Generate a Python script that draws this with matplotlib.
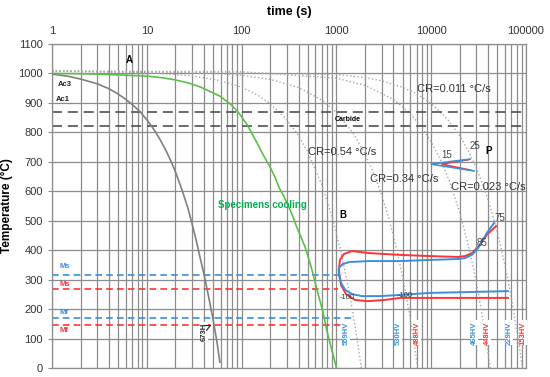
import numpy as np
import matplotlib
matplotlib.use("Agg")
import matplotlib.pyplot as plt
from matplotlib.ticker import NullFormatter

plt.rcParams['font.family'] = ['Liberation Sans', 'DejaVu Sans']

# ---- data (time in s, temperature in C) ----
# fast cooling (gray solid)
fast_t = [1, 1.5, 2, 3, 4, 5, 6, 7, 8.5, 10, 12, 14, 16, 18, 20, 23.5, 27, 30, 33, 36, 40,
          45, 50, 55, 59]
fast_T = [998, 990, 981, 965, 948, 930, 912, 895, 870, 843, 808, 772, 737, 702, 667, 605,
          545, 490, 437, 383, 320, 240, 165, 88, 20]

# specimens cooling (green)
spec_t = [1, 2, 3, 5, 10, 15, 20, 28, 36, 45, 59, 75, 92, 115, 145, 170, 200, 225, 250, 280,
          309, 345, 380, 420, 467, 505, 545, 585, 625, 665, 710, 750, 790, 835, 880, 940, 1000]
spec_T = [1000, 999, 998, 995, 991, 985, 978, 967, 955, 941, 923, 898, 869, 825, 765, 722,
          682, 648, 611, 582, 553, 517, 480, 447, 411, 375, 340, 302, 265, 232, 200, 165, 129,
          98, 70, 35, 0]

# cooling-rate curves (gray dotted)
cr054_t = [1, 10, 30, 60, 100, 150, 200, 300, 400, 500, 700, 900, 1100, 1300, 1500, 1700, 1830]
cr054_T = [1008, 1003, 992, 975, 953, 925, 898, 843, 788, 733, 623, 513, 403, 293, 183, 73, 0]
cr014_t = [1, 30, 100, 200, 400, 700, 1000, 1500, 2000, 2500, 3000, 3500, 4000, 4500, 5000,
           5500, 6000, 6500, 7000, 7200]
cr014_T = [1008, 1004, 994, 980, 952, 910, 868, 798, 728, 658, 588, 518, 448, 378, 308,
           238, 168, 98, 28, 0]
cr023_t = [1, 100, 1000, 2000, 4000, 6000, 8000, 10000, 13000, 16000, 20000, 24000, 28000,
           32000, 36000, 40000, 42000]
cr023_T = [1008, 1006, 984, 960, 912, 864, 816, 768, 696, 624, 528, 432, 336, 240, 144, 48, 0]
cr011_t = [1, 1000, 2000, 3000, 5000, 7000, 10000, 15000, 20000, 25000, 30000, 35000, 40000,
           45000, 50000, 55000, 60000, 65000, 70000, 75000, 80000, 85000, 90000, 91600]
cr011_T = [1008, 997, 986, 975, 953, 931, 898, 843, 788, 733, 678, 623, 568, 513, 458, 403,
           348, 293, 238, 183, 128, 73, 18, 0]

# bainite transformation curves
bain_blue_t = [45900, 38600, 34400, 31200, 26900, 22700, 19200, 9700, 4700, 2240, 1390, 1170,
               1060, 1060, 1120, 1240, 1460, 1860, 2870, 4700, 9700, 25700, 64500]
bain_blue_T = [492, 458, 431, 407, 384, 373, 370, 367, 363, 363, 360, 353,
               340, 316, 289, 265, 251, 244, 244, 248, 255, 258, 261]
bain_red_t = [48300, 38600, 34400, 31200, 26900, 22700, 19200, 9700, 4700, 2240, 1460, 1200,
              1090, 1060, 1120, 1260, 1570, 2150, 3240, 4700, 15800, 64500]
bain_red_T = [482, 452, 428, 411, 390, 380, 377, 380, 384, 390, 397, 387,
              367, 333, 282, 251, 231, 227, 231, 238, 238, 238]

# pearlite nose
pear_blue_t = [25700, 16000, 10000, 16500, 28300]
pear_blue_T = [709, 701, 692, 681, 669]
pear_red_t = [24500, 17000, 13000, 17500, 26000]
pear_red_T = [707, 699, 692, 683, 672]

# critical temperatures
ac3, ac1 = 869, 822
ms_blue, ms_red, mf_blue, mf_red = 316, 268, 170, 146
ms_blue_end, ms_red_end, mf_blue_end, mf_red_end = 1040, 1050, 1460, 1140

# hardness labels
hv_text = ['559HV', '530HV', '488HV', '465HV', '448HV', '229HV', '153HV']
hv_t = [1260, 4470, 7100, 28300, 38700, 66200, 93000]
hv_col = ['b', 'b', 'r', 'b', 'r', 'b', 'r']

BLUE = '#3a8fdd'
RED = '#ff3333'
GREEN = '#5cbf4a'
GRID = '#8c8c8c'

fig = plt.figure(figsize=(5.5, 3.77), dpi=100)
ax = fig.add_axes([52/550, 9/377, 474/550, 324/377])
ax.set_xscale('log')
ax.set_xlim(1, 100000)
ax.set_ylim(0, 1100)

# grid
ax.grid(True, which='both', axis='x', color=GRID, lw=0.9)
ax.grid(True, which='major', axis='y', color=GRID, lw=0.9)
ax.set_axisbelow(True)
for s in ax.spines.values():
    s.set_color(GRID)
    s.set_linewidth(0.9)

ax.xaxis.tick_top()
ax.xaxis.set_label_position('top')
ax.set_xticks([1, 10, 100, 1000, 10000, 100000])
ax.set_xticklabels(['1', '10', '100', '1000', '10000', '100000'], fontsize=8, color='#333333')
ax.xaxis.set_minor_formatter(NullFormatter())
ax.tick_params(axis='x', which='both', length=0, pad=6)
ax.set_yticks(range(0, 1101, 100))
ax.tick_params(axis='y', labelsize=8, length=3, color=GRID, labelcolor='#333333')
ax.set_xlabel('time (s)', fontsize=9, fontweight='bold', labelpad=8)
ax.set_ylabel('Temperature (°C)', fontsize=8.5, fontweight='bold', labelpad=4)

# cooling-rate curves
for tt, TT in [(cr054_t, cr054_T), (cr014_t, cr014_T), (cr023_t, cr023_T), (cr011_t, cr011_T)]:
    ax.plot(tt, TT, color='#a8a8a8', ls=':', lw=1.0)

# critical lines
ax.axhline(ac3, color='#505050', ls=(0, (6, 3.5)), lw=1.2)
ax.axhline(ac1, color='#505050', ls=(0, (6, 3.5)), lw=1.2)
ax.plot([1, ms_blue_end], [ms_blue, ms_blue], color=BLUE, ls=(0, (4, 2.5)), lw=1.2)
ax.plot([1, ms_red_end], [ms_red, ms_red], color=RED, ls=(0, (4, 2.5)), lw=1.2)
ax.plot([1, mf_blue_end], [mf_blue, mf_blue], color=BLUE, ls=(0, (4, 2.5)), lw=1.2)
ax.plot([1, mf_red_end], [mf_red, mf_red], color=RED, ls=(0, (4, 2.5)), lw=1.2)

ax.plot(fast_t, fast_T, color='#808080', lw=1.2)
ax.plot(spec_t, spec_T, color=GREEN, lw=1.2)

ax.plot(bain_red_t, bain_red_T, color=RED, lw=1.4)
ax.plot(bain_blue_t, bain_blue_T, color=BLUE, lw=1.4)
ax.plot(pear_red_t, pear_red_T, color=RED, lw=1.2)
ax.plot(pear_blue_t, pear_blue_T, color=BLUE, lw=1.2)

# texts
bold_small = dict(fontsize=5.5, fontweight='bold', color='#222222')
ax.text(6.6, 1046, 'A', fontsize=7, fontweight='bold', ha='center', va='center')
ax.text(1.15, 961, 'Ac3', va='center', **bold_small)
ax.text(1.1, 910, 'Ac1', va='center', **bold_small)
ax.text(1320, 842, 'Carbide', ha='center', va='center', fontsize=5, fontweight='bold')
ax.text(1170, 521, 'B', fontsize=7, fontweight='bold', ha='center', va='center')
ax.text(40700, 737, 'P', fontsize=7, fontweight='bold', ha='center', va='center')
for s, x, y in [('15', 14700, 723), ('25', 28900, 754), ('75', 53300, 509), ('85', 34500, 424)]:
    ax.text(x, y, s, fontsize=7, color='#444444', ha='center', va='center')
for x, y in [(1300, 241), (5300, 245)]:
    ax.text(x, y, '-100', fontsize=5.5, color='#333333', ha='center', va='center')

cr_style = dict(fontsize=8, color='#333333', va='center', ha='left')
ax.text(7100, 947, 'CR=0.011 °C/s', **cr_style)
ax.text(500, 733, 'CR=0.54 °C/s', **cr_style)
ax.text(2250, 642, 'CR=0.34 °C/s', **cr_style)
ax.text(16200, 615, 'CR=0.023 °C/s', **cr_style)
ax.text(56, 553, 'Specimens cooling', fontsize=7, fontweight='bold', color='#00b050',
        va='center', ha='left')

ax.text(1.2, 343, 'Ms', fontsize=5.5, fontweight='bold', color=BLUE, va='center')
ax.text(1.2, 285, 'Ms', fontsize=5.5, fontweight='bold', color=RED, va='center')
ax.text(1.2, 187, 'Mf', fontsize=5.5, fontweight='bold', color=BLUE, va='center')
ax.text(1.2, 129, 'Mf', fontsize=5.5, fontweight='bold', color=RED, va='center')

for s, x, c in zip(hv_text, hv_t, hv_col):
    ax.text(x, 119, s, rotation=90, fontsize=5.5, fontweight='bold',
            color=BLUE if c == 'b' else RED, ha='center', va='center',
            bbox=dict(facecolor='white', edgecolor='none', pad=0.6))
ax.text(40, 122, '673H', rotation=90, fontsize=5.5, fontweight='bold', color='#222222',
        ha='center', va='center', bbox=dict(facecolor='white', edgecolor='none', pad=0.6))
ax.annotate('', xy=(51, 150), xytext=(44, 140),
            arrowprops=dict(arrowstyle='->', color='#222222', lw=0.8))

fig.savefig('out.png', dpi=100)
